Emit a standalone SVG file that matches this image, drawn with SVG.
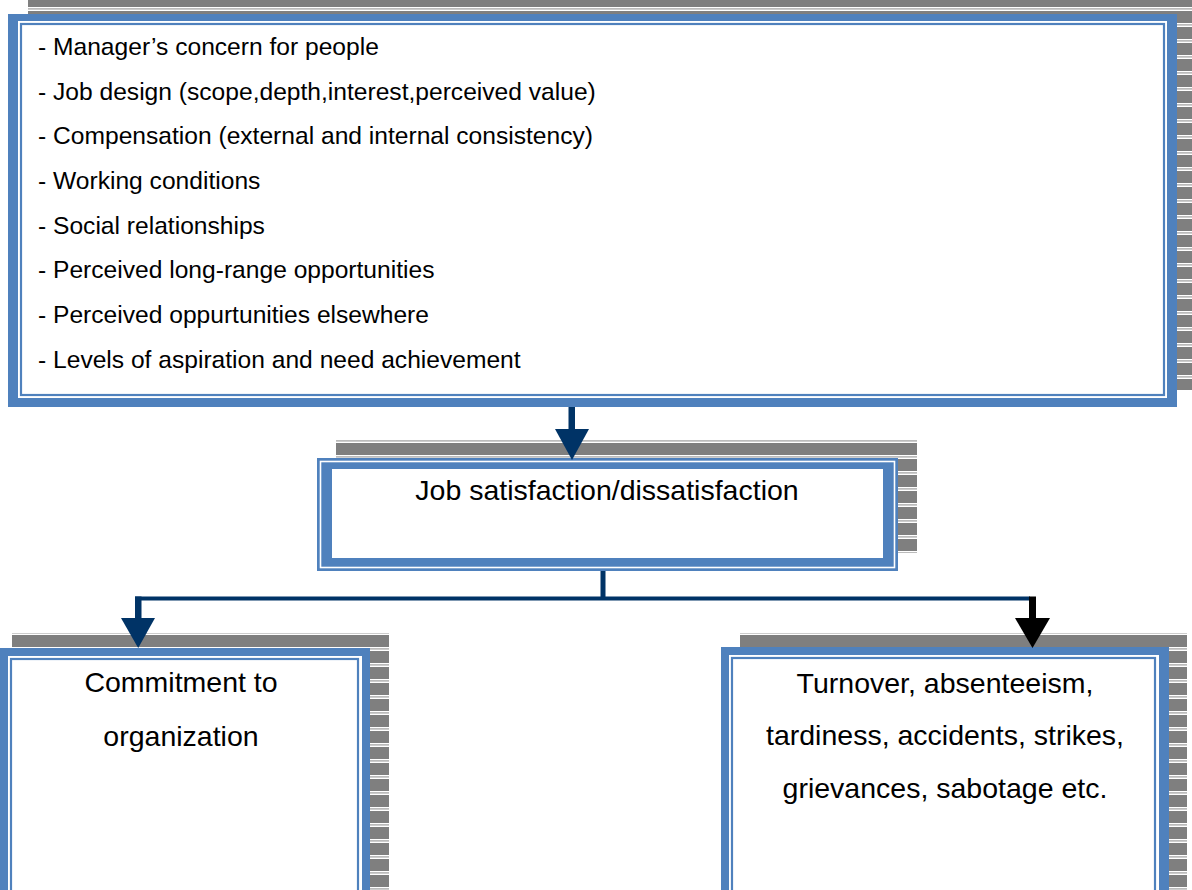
<svg xmlns="http://www.w3.org/2000/svg" width="1192" height="890" viewBox="0 0 1192 890">
<defs>
<pattern id="stripes" patternUnits="userSpaceOnUse" width="16" height="16" y="7">
<rect width="16" height="16" fill="#7f7f7f"/>
<rect y="0" width="16" height="1.5" fill="#ffffff"/>
<rect y="1.5" width="16" height="1" fill="#b8b8b8"/>
<rect y="2.5" width="16" height="1.5" fill="#ffffff"/>
</pattern>
</defs>
<style>
.shadow{fill:url(#stripes)}
.blue{fill:#4f81bd}
.white{fill:#ffffff}
.thin{fill:none;stroke:#4f81bd;stroke-width:2.2}
.gap{fill:none;stroke:#ffffff;stroke-width:1.6}
.list{font-family:"Liberation Sans",Arial,sans-serif;font-size:24.6px;fill:#000}
.lbl{font-family:"Liberation Sans",Arial,sans-serif;font-size:28.5px;fill:#000;text-anchor:middle}
.navy{fill:#003366}
.black{fill:#000000}
</style>
<rect width="1192" height="890" fill="#ffffff"/>

<g id="factors">
<rect class="shadow" x="28" y="-4" width="1170" height="394"/>
<rect class="blue" x="8" y="14" width="1169" height="393"/>
<rect class="white" x="18" y="21" width="1149" height="377"/>
<rect class="thin" x="21" y="24" width="1143" height="371"/>
<text class="list" x="38" y="55">- Manager’s concern for people</text>
<text class="list" x="38" y="100">- Job design (scope,depth,interest,perceived value)</text>
<text class="list" x="38" y="144">- Compensation (external and internal consistency)</text>
<text class="list" x="38" y="189">- Working conditions</text>
<text class="list" x="38" y="234">- Social relationships</text>
<text class="list" x="38" y="278">- Perceived long-range opportunities</text>
<text class="list" x="38" y="323">- Perceived oppurtunities elsewhere</text>
<text class="list" x="38" y="368">- Levels of aspiration and need achievement</text>
</g>

<g id="satisfaction">
<rect class="shadow" x="336" y="440" width="581" height="113"/>
<rect class="blue" x="317" y="458" width="581" height="113"/>
<rect class="gap" x="320.5" y="461.5" width="574" height="106"/>
<rect class="white" x="332" y="469" width="551" height="89"/>
<text class="lbl" x="607" y="500">Job satisfaction/dissatisfaction</text>
</g>

<g id="commitment">
<rect class="shadow" x="12" y="633" width="377" height="270"/>
<rect class="blue" x="-2" y="648" width="372" height="260"/>
<rect class="white" x="8" y="656" width="354" height="250"/>
<rect class="thin" x="11" y="659" width="347" height="240"/>
<text class="lbl" x="181" y="692">Commitment to</text>
<text class="lbl" x="181" y="746">organization</text>
</g>

<g id="outcomes">
<rect class="shadow" x="740" y="633" width="447" height="270"/>
<rect class="blue" x="721" y="647" width="448" height="260"/>
<rect class="white" x="729" y="655" width="430" height="250"/>
<rect class="thin" x="732" y="658" width="423" height="240"/>
<text class="lbl" x="945" y="693">Turnover, absenteeism,</text>
<text class="lbl" x="945" y="745">tardiness, accidents, strikes,</text>
<text class="lbl" x="945" y="798">grievances, sabotage etc.</text>
</g>

<g id="connectors">
<rect class="navy" x="568.5" y="407" width="6.5" height="23"/>
<polygon class="navy" points="555,429 589,429 572,460"/>
<rect class="navy" x="600.5" y="571" width="5" height="29"/>
<rect class="navy" x="135" y="596.5" width="895" height="4"/>
<rect class="navy" x="135" y="596.5" width="6.5" height="23"/>
<polygon class="navy" points="121,618 155,618 138.2,648"/>
<rect class="black" x="1029" y="596.5" width="7" height="23"/>
<polygon class="black" points="1015,618 1050,618 1032.5,648"/>
</g>
</svg>
